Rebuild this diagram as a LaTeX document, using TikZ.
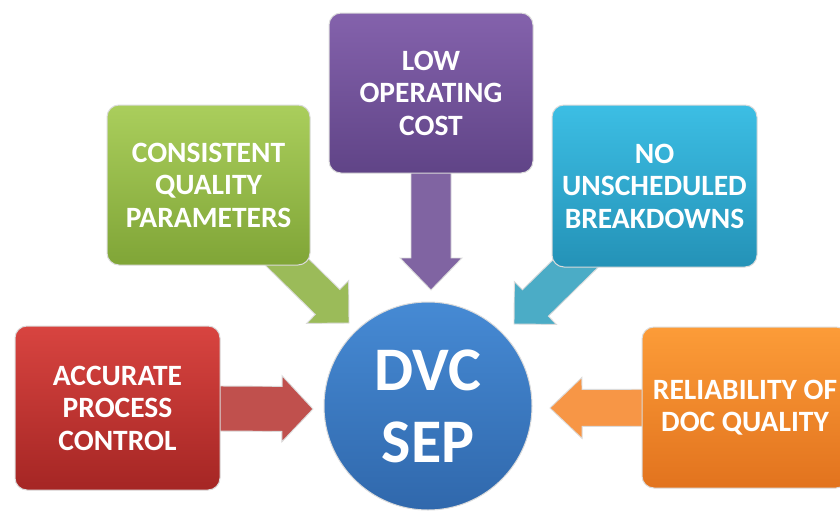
\documentclass[tikz,border=0pt]{standalone}
\usepackage{fontspec}
\setmainfont{Carlito}
\usetikzlibrary{calc,backgrounds}
\definecolor{redTop}{RGB}{216,68,64}
\definecolor{redBot}{RGB}{165,38,36}
\definecolor{redArr}{RGB}{192,80,77}
\definecolor{grnTop}{RGB}{170,206,92}
\definecolor{grnBot}{RGB}{128,165,55}
\definecolor{grnArr}{RGB}{155,187,89}
\definecolor{purTop}{RGB}{132,98,172}
\definecolor{purBot}{RGB}{96,68,135}
\definecolor{purArr}{RGB}{128,100,162}
\definecolor{cyaTop}{RGB}{60,190,228}
\definecolor{cyaBot}{RGB}{36,146,183}
\definecolor{cyaArr}{RGB}{75,172,198}
\definecolor{orgTop}{RGB}{252,156,56}
\definecolor{orgBot}{RGB}{226,115,30}
\definecolor{orgArr}{RGB}{247,150,70}
\definecolor{bluTop}{RGB}{70,138,212}
\definecolor{bluBot}{RGB}{48,104,172}
\newcommand\blockarr[6]{%
  \coordinate (hb) at ($(#2)!#5!(#1)$);
  \filldraw[arrowshape, fill=#6]
    ($(#1)!#3!90:(#2)$) -- ($(hb)!#3!-90:(#1)$) -- ($(hb)!#4!-90:(#1)$) -- (#2)
    -- ($(hb)!#4!90:(#1)$) -- ($(hb)!#3!90:(#1)$) -- ($(#1)!#3!-90:(#2)$) -- cycle;
}
\begin{document}
\begin{tikzpicture}[x=1pt,y=-1pt,
  arrowshape/.style={draw=black!14, line width=0.9pt, line join=miter},
  featbox/.style={rectangle, rounded corners=12pt, draw=black!14, line width=1pt,
    text=white, align=center, font=\bfseries\fontsize{29.5}{32.5}\selectfont, inner sep=0pt},
  hubnode/.style={circle, draw=black!14, line width=1pt, minimum size=208pt, inner sep=0pt,
    top color=bluTop, bottom color=bluBot, text=white, align=center,
    font=\bfseries\fontsize{62}{72}\selectfont}]
\useasboundingbox (0,0) rectangle (840,517);
\clip (0,0) rectangle (840,517);
% boxes
\node[featbox, minimum width=205pt, minimum height=164pt, top color=redTop, bottom color=redBot]
  (acc) at (117.5,408) {ACCURATE\\PROCESS\\CONTROL};
\node[featbox, minimum width=203pt, minimum height=160pt, top color=grnTop, bottom color=grnBot]
  (cons) at (208.5,185) {CONSISTENT\\QUALITY\\PARAMETERS};
\node[featbox, minimum width=204pt, minimum height=160pt, top color=purTop, bottom color=purBot]
  (low) at (431,93) {LOW\\OPERATING\\COST};
\node[featbox, minimum width=205pt, minimum height=162pt, top color=cyaTop, bottom color=cyaBot]
  (nobr) at (654.5,186) {NO\\UNSCHEDULED\\BREAKDOWNS};
\node[featbox, minimum width=206pt, minimum height=161pt, top color=orgTop, bottom color=orgBot]
  (rel) at (745,407.5) {RELIABILITY OF\\DOC QUALITY};
\node[hubnode] (hub) at (428,406) {DVC\\SEP};
% arrow tips
\coordinate (tAcc) at (313,409);
\coordinate (tCons) at (349,323);
\coordinate (tLow) at (431,290);
\coordinate (tNobr) at (514,324);
\coordinate (tRel) at (550,408);
\begin{scope}[on background layer]
  \blockarr{acc.center}{tAcc}{22.5pt}{33pt}{31pt}{redArr}
  \blockarr{cons.center}{tCons}{17.5pt}{30pt}{30pt}{grnArr}
  \blockarr{low.center}{tLow}{20pt}{31pt}{32pt}{purArr}
  \blockarr{nobr.center}{tNobr}{18.5pt}{30pt}{30pt}{cyaArr}
  \blockarr{rel.center}{tRel}{18.5pt}{30.5pt}{32pt}{orgArr}
\end{scope}
\end{tikzpicture}
\end{document}
